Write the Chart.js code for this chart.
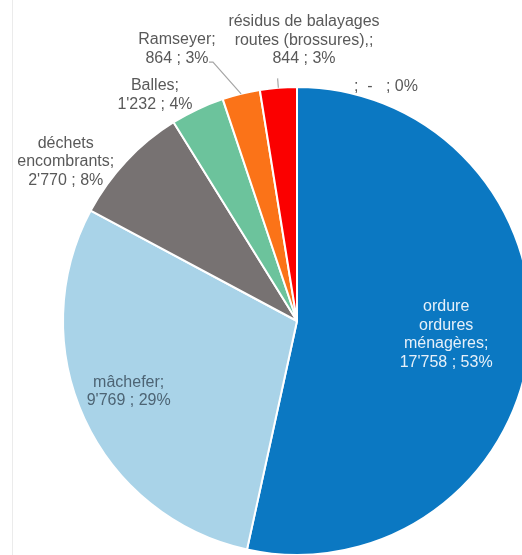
<!DOCTYPE html>
<html lang="fr">
<head>
<meta charset="utf-8">
<script src="https://cdn.jsdelivr.net/npm/chart.js@4.4.1/dist/chart.umd.min.js"></script>
<style>
    html, body {
        margin: 0;
        padding: 0;
        width: 522px;
        height: 555px;
        overflow: hidden;
        background: #ffffff;
    }
    #wrap {
        position: absolute;
        left: 0;
        top: 0;
        width: 594px;
        height: 642px;
    }
    #edge {
        position: absolute;
        left: 12px;
        top: 0;
        width: 1px;
        height: 555px;
        background: #ebebeb;
    }
</style>
</head>
<body>

<div id="edge"></div>
<div id="wrap">
    <canvas id="wasteChart" width="594" height="642"></canvas>
</div>

<script>

    // catégories (ordre des secteurs depuis midi, sens horaire)
    var categories = ['', 'ordure ordures ménagères', 'mâchefer', 'déchets encombrants', 'Balles', 'Ramseyer', 'résidus de balayages routes (brossures),'];
    var tonnes = [0, 17758, 9769, 2770, 1232, 864, 844];

    // texte des étiquettes, ligne par ligne (sans la valeur)
    var labelLines = [
        [';'],
        ['ordure', 'ordures', 'ménagères;'],
        ['mâchefer;'],
        ['déchets', 'encombrants;'],
        ['Balles;'],
        ['Ramseyer;'],
        ['résidus de balayages', 'routes (brossures),;']
    ];

    var colors = ['#0b78c2', '#0b78c2', '#a9d3e8', '#777272', '#6cc39c', '#fb7318', '#fb0000'];

    var fmt = function (v) {
        if (v === 0) return '-';
        return String(v).replace(/\B(?=(\d{3})+(?!\d))/g, "'");
    };

    var total = tonnes.reduce(function (a, b) { return a + b; }, 0);

    var labelText = labelLines.map(function (lines, i) {
        var pct = Math.round(tonnes[i] / total * 100) + '%';
        var out = lines.slice();
        if (i === 0) {
            out = [';  ' + fmt(tonnes[i]) + '   ; ' + pct];
        } else {
            out.push(fmt(tonnes[i]) + ' ; ' + pct);
        }
        return out;
    });

    // placement: facteur de rayon + décalage d'angle (degrés) par rapport au milieu du secteur
    var labelLayout = [
        { f: 1.07, da: 20.8, color: '#595959' },
        { f: 0.64, da: -1, color: '#e6f0f9' },
        { f: 0.78, da: 2, color: '#4d6474' },
        { f: 1.20, da: -8.6, color: '#595959' },
        { f: 1.14, da: -7, color: '#595959' },
        { f: 1.27, da: -10, color: '#595959', leader: [36, 13] },
        { f: 1.20, da: 6, color: '#595959', leader: 'radial' }
    ];

    var pieLabels = {
        id: 'pieLabels',
        afterDatasetsDraw: function (chart) {
            var ctx = chart.ctx;
            var meta = chart.getDatasetMeta(0);
            var lineH = 18.5;
            ctx.save();
            ctx.font = '16px "Liberation Sans", Arial, sans-serif';
            ctx.textAlign = 'center';
            ctx.textBaseline = 'middle';

            meta.data.forEach(function (arc, i) {
                var p = arc.getProps(['x', 'y', 'startAngle', 'endAngle', 'outerRadius'], true);
                var lay = labelLayout[i];
                var mid = (p.startAngle + p.endAngle) / 2;
                var a = mid + lay.da * Math.PI / 180;
                var lx = p.x + Math.cos(a) * p.outerRadius * lay.f;
                var ly = p.y + Math.sin(a) * p.outerRadius * lay.f;
                var lines = labelText[i];

                if (lay.leader) {
                    var ex = p.x + Math.cos(mid) * p.outerRadius;
                    var ey = p.y + Math.sin(mid) * p.outerRadius;
                    var sx, sy;
                    if (lay.leader === 'radial') {
                        sx = p.x + Math.cos(mid) * p.outerRadius * 1.04;
                        sy = p.y + Math.sin(mid) * p.outerRadius * 1.04;
                    } else {
                        sx = lx + lay.leader[0];
                        sy = ly + lay.leader[1];
                    }
                    ctx.strokeStyle = '#a6a6a6';
                    ctx.lineWidth = 1.2;
                    ctx.beginPath();
                    ctx.moveTo(sx - (lay.leader === 'radial' ? 0 : 4), sy);
                    ctx.lineTo(sx, sy);
                    ctx.lineTo(ex, ey);
                    ctx.stroke();
                }

                ctx.fillStyle = lay.color;
                var y0 = ly - (lines.length - 1) * lineH / 2;
                lines.forEach(function (t, k) {
                    ctx.fillText(t, lx, y0 + k * lineH);
                });
            });
            ctx.restore();
        }
    };

    var ctx = document.getElementById('wasteChart').getContext('2d');
    var chart = new Chart(ctx, {
        type: 'pie',
        data: {
            labels: categories,
            datasets: [{
                data: tonnes,
                backgroundColor: colors,
                borderColor: '#ffffff',
                borderWidth: 2,
                radius: 234
            }]
        },
        options: {
            responsive: false,
            animation: false,
            events: [],
            layout: { padding: 0 },
            plugins: {
                legend: { display: false },
                tooltip: { enabled: false }
            }
        },
        plugins: [pieLabels]
    });

</script>
</body>
</html>
